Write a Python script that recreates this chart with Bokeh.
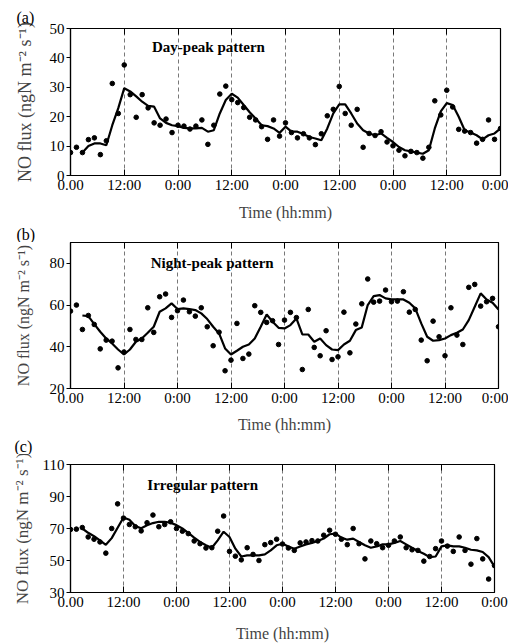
from bokeh.plotting import figure
from bokeh.layouts import column
from bokeh.models import FixedTicker, LinearAxis, Label, Title
from bokeh.embed import file_html
from bokeh.resources import INLINE

NAN = float("nan")

# sample times (hours from start, one sample every 80 min)
hours = [0.0, 1.33, 2.67, 4.0, 5.33, 6.67, 8.0, 9.33, 10.67, 12.0,
         13.33, 14.67, 16.0, 17.33, 18.67, 20.0, 21.33, 22.67, 24.0,
         25.33, 26.67, 28.0, 29.33, 30.67, 32.0, 33.33, 34.67, 36.0,
         37.33, 38.67, 40.0, 41.33, 42.67, 44.0, 45.33, 46.67, 48.0,
         49.33, 50.67, 52.0, 53.33, 54.67, 56.0, 57.33, 58.67, 60.0,
         61.33, 62.67, 64.0, 65.33, 66.67, 68.0, 69.33, 70.67, 72.0,
         73.33, 74.67, 76.0, 77.33, 78.67, 80.0, 81.33, 82.67, 84.0,
         85.33, 86.67, 88.0, 89.33, 90.67, 92.0, 93.33, 94.67, 96.0]

x_ticks = [0, 12, 24, 36, 48, 60, 72, 84, 96]
x_tick_labels = ["0.00", "12:00", "0:00", "12:00", "0:00", "12:00", "0:00", "12:00", "0:00"]

# (a) Day-peak pattern
day_obs = [7.8, 9.6, 7.8, 12.2, 12.8, 7.1, 11.8, 31.3, 21.1, 37.6,
           27.5, 19.8, 27.5, 23.0, 17.9, 17.1, 19.2, 14.6, 17.1, 16.8,
           15.8, 16.8, 18.9, 10.6, 17.1, 27.7, 30.4, 25.8, 24.8, 23.1,
           19.8, 18.9, 16.6, 12.3, 18.9, 13.4, 17.9, 14.6, 12.8, 14.2,
           12.8, 10.5, 14.2, 20.3, 22.5, 30.3, 21.1, 17.1, 22.5, 9.6,
           14.3, 13.6, 14.9, 11.4, 10.1, 8.6, 6.7, 8.2, 7.8, 5.9,
           9.6, 25.4, 20.6, 29.0, 23.3, 15.7, 15.1, 14.6, 11.0, 12.3,
           18.9, 12.3, 16.0]
day_fit = [NAN, NAN, 7.8, 10.0, 10.9, 10.9, 10.3, 17.1, 22.9, 29.7,
           28.6, 26.9, 25.1, 23.7, 23.4, 19.4, 17.9, 17.1, 16.8, 16.2,
           16.0, 16.0, 16.2, 14.9, 15.4, 21.1, 25.7, 27.8, 26.5, 24.0,
           21.5, 19.4, 17.1, 16.8, 16.0, 14.5, 16.6, 14.9, 14.9, 14.1,
           13.1, 12.6, 12.0, 16.0, 21.1, 24.2, 24.2, 21.1, 17.7, 15.4,
           14.3, 13.7, 14.3, 12.8, 11.4, 9.7, 8.6, 8.2, 7.8, 7.4,
           8.6, 16.0, 21.8, 24.6, 24.0, 20.0, 15.4, 14.6, 13.7, 12.3,
           13.7, 14.3, 16.0]

# (b) Night-peak pattern
night_obs = [57.1, 60.0, 48.3, 55.0, 50.7, 39.0, 43.2, 42.7, 29.9, 37.5,
             48.3, 43.5, 43.5, 58.7, 46.9, 64.0, 65.3, 54.1, 57.3, 62.4,
             56.8, 54.7, 58.7, 49.6, 40.5, 47.0, 28.5, 33.6, 51.2, 34.4,
             36.5, 59.7, 56.5, 51.7, 52.5, 41.1, 52.8, 56.5, 54.0, 29.1,
             57.9, 39.7, 35.7, 47.7, 33.9, 35.2, 56.6, 37.1, 50.9, 60.6,
             72.5, 61.4, 61.9, 67.2, 61.6, 61.9, 66.4, 56.6, 57.9, 43.2,
             33.3, 52.3, 44.8, 35.7, 58.7, 45.6, 41.1, 68.5, 69.9, 59.5,
             61.6, 63.2, 49.6]
night_fit = [NAN, NAN, 55.0, 54.7, 50.9, 47.2, 44.0, 41.6, 38.7, 36.3,
             38.7, 42.4, 44.0, 46.7, 49.6, 56.8, 58.4, 60.8, 58.1, 58.4,
             58.1, 57.6, 56.0, 53.3, 49.6, 46.4, 39.2, 36.3, 38.1, 40.0,
             41.1, 44.0, 49.6, 55.5, 52.0, 49.1, 48.8, 50.4, 53.6, 45.9,
             45.9, 42.4, 44.0, 40.8, 38.7, 38.4, 41.1, 42.9, 48.0, 49.3,
             60.0, 64.3, 64.8, 63.2, 62.7, 62.7, 62.7, 61.1, 58.4, 51.2,
             44.8, 42.9, 43.2, 44.0, 45.6, 46.7, 48.3, 52.8, 59.2, 65.6,
             62.7, 61.1, 57.9]

# (c) Irregular pattern
irr_obs = [69.4, 69.6, 70.6, 64.7, 63.3, 61.6, 54.6, 70.0, 85.4, 76.5,
           72.5, 71.1, 68.5, 73.6, 78.4, 71.1, 72.5, 74.2, 70.0, 68.3,
           66.8, 62.2, 60.5, 57.8, 58.0, 68.3, 77.8, 55.7, 52.7, 50.4,
           58.0, 53.8, 50.0, 59.9, 61.2, 63.3, 60.3, 57.8, 56.3, 61.0,
           61.6, 62.4, 62.2, 65.8, 68.9, 66.4, 63.3, 59.9, 70.0, 60.5,
           51.0, 62.2, 60.5, 58.0, 59.5, 62.2, 64.7, 58.0, 56.7, 56.3,
           49.6, 52.5, 57.4, 62.2, 59.0, 55.7, 64.7, 56.3, 47.7, 63.7,
           51.0, 38.4, 46.8]
irr_fit = [NAN, NAN, 70.0, 67.3, 65.2, 62.6, 59.8, 64.0, 70.5, 76.9,
           75.5, 71.5, 70.2, 72.0, 73.4, 74.2, 74.2, 73.6, 72.1, 70.0,
           67.3, 64.3, 61.6, 59.5, 58.0, 62.6, 68.0, 64.7, 57.4, 52.5,
           53.2, 53.2, 53.2, 53.8, 56.3, 59.5, 60.5, 58.8, 57.4, 58.8,
           60.1, 61.0, 62.2, 63.7, 66.4, 66.8, 64.3, 63.0, 63.7, 61.6,
           59.5, 58.0, 58.8, 60.1, 60.1, 61.0, 62.2, 60.1, 58.0, 55.9,
           54.2, 52.1, 52.5, 58.8, 59.5, 58.8, 58.8, 58.0, 56.7, 56.3,
           55.3, 52.1, 46.2]

FONT = "Liberation Serif"
Y_LABEL = "NO flux (ngN m\u207b\u00b2 s\u207b\u00b9)"
PAGE_W = 508


def tag_title(text, left, standoff):
    return Title(text=text, align="left", offset=12 - left, standoff=standoff,
                 text_font=FONT, text_font_style="normal",
                 text_font_size="16px", text_color="black")


def make_panel(obs, fit, y_lo, y_hi, y_ticks, title, title_xy,
               left, fw, top, fh, bottom, xlab_standoff, ylab_standoff,
               ylab_size):
    p = figure(x_range=(0, 96), y_range=(y_lo, y_hi),
               frame_width=fw, frame_height=fh,
               min_border_left=left, min_border_right=PAGE_W - left - fw,
               min_border_top=top, min_border_bottom=bottom,
               output_backend="svg", toolbar_location=None, tools="")
    p.background_fill_color = "white"
    p.outline_line_color = "black"
    p.outline_line_width = 1.2

    xa = p.xaxis[0]
    xa.ticker = FixedTicker(ticks=x_ticks)
    xa.major_label_overrides = {t: s for t, s in zip(x_ticks, x_tick_labels)}
    xa.major_tick_in = 6
    xa.major_tick_out = 0
    xa.minor_tick_line_color = None
    xa.major_label_standoff = 1
    xa.major_label_text_font = FONT
    xa.major_label_text_font_size = "15px"
    xa.major_label_text_color = "black"
    xa.axis_label = "Time (hh:mm)"
    xa.axis_label_text_font = FONT
    xa.axis_label_text_font_style = "normal"
    xa.axis_label_text_font_size = "16px"
    xa.axis_label_standoff = xlab_standoff
    xa.axis_line_width = 1.2

    top_ax = LinearAxis(ticker=FixedTicker(ticks=x_ticks))
    top_ax.major_tick_in = 6
    top_ax.major_tick_out = 0
    top_ax.minor_tick_line_color = None
    top_ax.major_label_text_font_size = "0px"
    top_ax.major_label_standoff = 0
    top_ax.axis_line_width = 1.2
    p.add_layout(top_ax, "above")

    ya = p.yaxis[0]
    ya.ticker = FixedTicker(ticks=y_ticks)
    ya.major_tick_in = 0
    ya.major_tick_out = 4
    ya.minor_tick_line_color = None
    ya.major_label_standoff = 2
    ya.major_label_text_font = FONT
    ya.major_label_text_font_size = "15px"
    ya.major_label_text_color = "black"
    ya.axis_label = Y_LABEL
    ya.axis_label_text_font = FONT
    ya.axis_label_text_font_style = "normal"
    ya.axis_label_text_font_size = ylab_size
    ya.axis_label_standoff = ylab_standoff
    ya.axis_line_width = 1.2

    p.ygrid.visible = False
    p.xgrid.ticker = FixedTicker(ticks=x_ticks[1:-1])
    p.xgrid.grid_line_color = "#555555"
    p.xgrid.grid_line_width = 0.8
    p.xgrid.grid_line_dash = "4 3"

    p.line(hours, fit, line_color="black", line_width=2.2)
    p.scatter(hours, obs, size=4.6, fill_color="black", line_color="black")

    p.add_layout(Label(x=title_xy[0], y=title_xy[1], text=title,
                       text_font=FONT, text_font_style="bold",
                       text_font_size="15px", text_baseline="middle",
                       text_align="left", text_color="black"))
    return p


p1 = make_panel(day_obs, day_fit, 0, 50, [0, 10, 20, 30, 40, 50],
                "Day-peak pattern", (18.2, 43.6),
                66, 430, 28, 147, 60, 8, 12, "18px")
p2 = make_panel(night_obs, night_fit, 20, 90, [20, 40, 60, 80],
                "Night-peak pattern", (18.0, 80.4),
                68, 428, 0, 146, 60, 7, 15, "16px")
p3 = make_panel(irr_obs, irr_fit, 30, 110, [30, 50, 70, 90, 110],
                "Irregular pattern", (17.4, 97.4),
                70, 424, 10, 128, 48, 12, 8, "17px")

# panel tags: (a) above panel a; (b) and (c) sit under the previous panel's axis
p1.add_layout(tag_title("(a)", 66, 6), "above")
p1.add_layout(tag_title("(b)", 66, 0), "below")
p2.add_layout(tag_title("(c)", 68, 0), "below")

layout = column(p1, p2, p3, spacing=0)
open("out.html", "w").write(file_html(layout, INLINE))
